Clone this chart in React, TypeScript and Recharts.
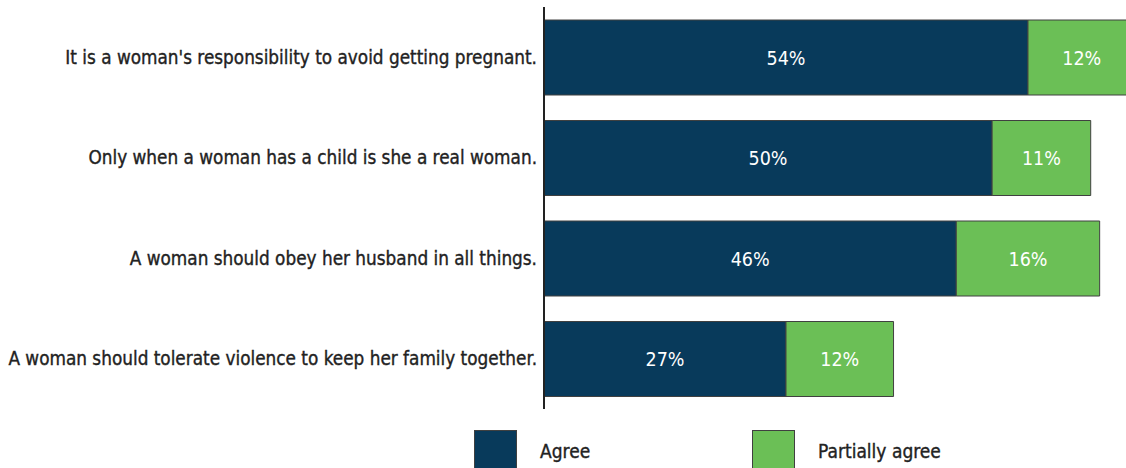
import React from 'react';
import { BarChart, Bar, XAxis, YAxis, LabelList } from 'recharts';

const statements = [
  "It is a woman's responsibility to avoid getting pregnant.",
  'Only when a woman has a child is she a real woman.',
  'A woman should obey her husband in all things.',
  'A woman should tolerate violence to keep her family together.',
];
const agree = [54, 50, 46, 27];
const partiallyAgree = [12, 11, 16, 12];

const NAVY = '#083a5b';
const GREEN = '#6bbf56';
const LABEL_FONT = "'DejaVu Sans', sans-serif";

const data = statements.map((s, i) => ({
  statement: s,
  agree: agree[i],
  partial: partiallyAgree[i],
}));

const legendItems = [
  { name: 'Agree', color: NAVY, left: 474 },
  { name: 'Partially agree', color: GREEN, left: 752 },
];

function CategoryTick(props: any) {
  const { x, y, payload } = props;
  return (
    <text
      x={x}
      y={y}
      dy="0.35em"
      textAnchor="end"
      fill="#222"
      stroke="#222"
      strokeWidth={0.35}
      fontSize={18.8}
      fontFamily={LABEL_FONT}
      style={{ fontStretch: 'condensed' }}
    >
      {payload.value}
    </text>
  );
}

function ValueLabel(props: any) {
  const { x, y, width, height, value } = props;
  return (
    <text
      x={x + width / 2}
      y={y + height / 2}
      dy="0.36em"
      textAnchor="middle"
      fill="#fff"
      fontSize={19.5}
      fontFamily={LABEL_FONT}
      style={{ fontStretch: 'condensed' }}
    >
      {`${value}%`}
    </text>
  );
}

export default function App() {
  return (
    <div style={{ position: 'absolute', left: 0, top: 0, width: 1126, height: 468, overflow: 'hidden', background: '#fff' }}>
      <BarChart
        width={1140}
        height={468}
        data={data}
        layout="vertical"
        margin={{ top: 7, right: 0, bottom: 59, left: 0 }}
        barCategoryGap={13}
      >
        <XAxis type="number" domain={[0, 66.5]} allowDataOverflow hide />
        <YAxis
          type="category"
          dataKey="statement"
          width={544}
          tickLine={false}
          tickMargin={1}
          axisLine={{ stroke: '#222', strokeWidth: 2 }}
          tick={<CategoryTick />}
        />
        <Bar dataKey="agree" stackId="a" fill={NAVY} stroke="#404040" strokeWidth={1} isAnimationActive={false}>
          <LabelList dataKey="agree" content={<ValueLabel />} />
        </Bar>
        <Bar dataKey="partial" stackId="a" fill={GREEN} stroke="#404040" strokeWidth={1} isAnimationActive={false}>
          <LabelList dataKey="partial" content={<ValueLabel />} />
        </Bar>
      </BarChart>
      {legendItems.map((it) => (
        <div key={it.name} style={{ position: 'absolute', left: it.left, top: 430, display: 'flex', alignItems: 'center' }}>
          <div style={{ width: 43, height: 42, background: it.color, border: '1px solid #404040', boxSizing: 'border-box' }} />
          <span style={{ marginLeft: 23, fontFamily: LABEL_FONT, fontStretch: 'condensed', fontSize: 19, color: '#222', WebkitTextStroke: '0.35px #222' }}>{it.name}</span>
        </div>
      ))}
    </div>
  );
}
